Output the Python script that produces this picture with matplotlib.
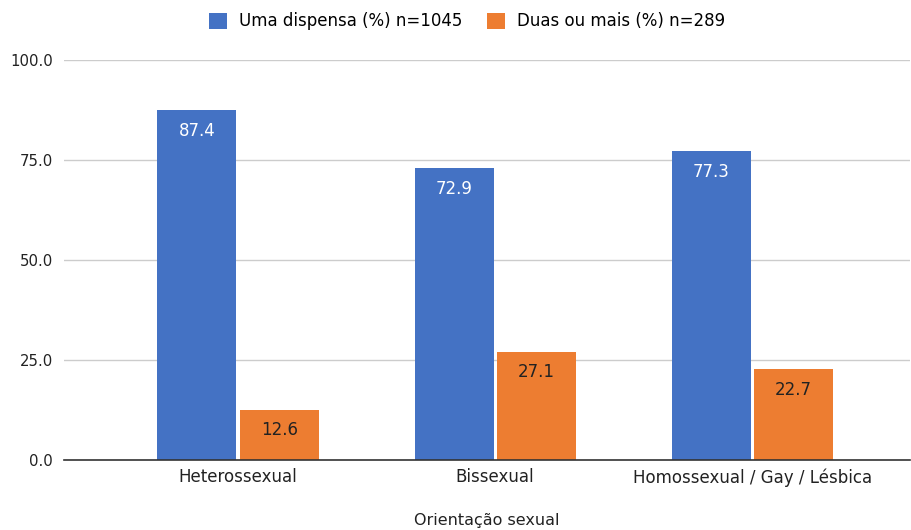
import matplotlib
matplotlib.use("Agg")
import matplotlib.pyplot as plt
import numpy as np

categories = ["Heterossexual", "Bissexual", "Homossexual / Gay / Lésbica"]
uma = [87.4, 72.9, 77.3]
duas = [12.6, 27.1, 22.7]
series_names = ["Uma dispensa (%) n=1045", "Duas ou mais (%) n=289"]
yticks = [0, 25, 50, 75, 100]

blue = "#4472C4"
orange = "#ED7D31"

fig = plt.figure(figsize=(9.11, 5.30), dpi=100)
ax = fig.add_axes([0.0703, 0.132, 0.929, 0.755])

x = np.arange(len(categories))
w = 0.307
off = 0.16
b1 = ax.bar(x - off, uma, w, color=blue, label=series_names[0], zorder=3)
b2 = ax.bar(x + off, duas, w, color=orange, label=series_names[1], zorder=3)

for rect, v in zip(b1, uma):
    ax.text(rect.get_x() + rect.get_width() / 2, v - 5.2, f"{v:.1f}",
            ha="center", va="center", color="white", fontsize=12, zorder=4)
for rect, v in zip(b2, duas):
    ax.text(rect.get_x() + rect.get_width() / 2, v - 5.2, f"{v:.1f}",
            ha="center", va="center", color="#222222", fontsize=12, zorder=4)

ax.set_xlim(-0.677, 2.615)
ax.set_ylim(0, 100)
ax.set_yticks(yticks)
ax.set_yticklabels([f"{t:.1f}" for t in yticks], fontsize=10.75, color="#222222")
ax.set_xticks(x)
ax.set_xticklabels(categories, fontsize=12, color="#222222")
ax.tick_params(axis="both", length=0)
ax.tick_params(axis="x", pad=6)
ax.tick_params(axis="y", pad=8)
ax.grid(axis="y", color="#cccccc", linewidth=1, zorder=0)
for s in ["top", "right", "left"]:
    ax.spines[s].set_visible(False)
ax.spines["bottom"].set_color("#333333")
ax.spines["bottom"].set_linewidth(1.2)
ax.spines["bottom"].set_zorder(5)

ax.set_xlabel("Orientação sexual", fontsize=11.5, color="#222222", labelpad=19)

fig.legend(loc="upper center", bbox_to_anchor=(0.513, 1.005), ncol=2, frameon=False,
           fontsize=12, handlelength=1.08, handleheight=1.08, columnspacing=1.5,
           handletextpad=0.72)

fig.savefig("out.png", dpi=100)
